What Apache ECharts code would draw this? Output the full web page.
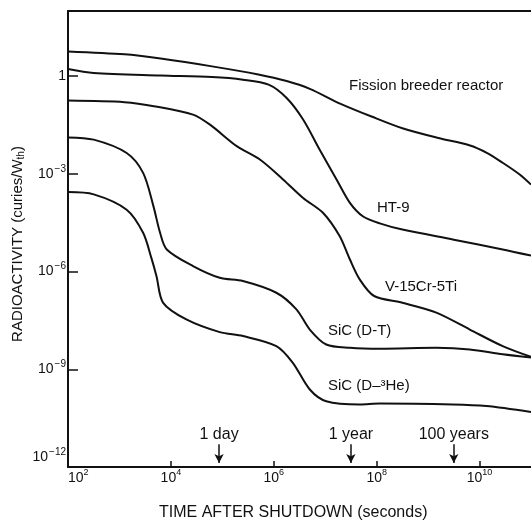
<!DOCTYPE html>
<html>
<head>
<meta charset="utf-8">
<script src="https://cdn.jsdelivr.net/npm/echarts@6/dist/echarts.min.js"></script>
<style>
  html, body { margin: 0; padding: 0; background: #fff; }
  #chart { width: 531px; height: 522px; }
</style>
</head>
<body>
<div id="chart"></div>
<script>
// 数据：横轴为 log10(秒)，纵轴为 log10(curies/W)
const fission = [[2.0, 0.76], [3.1, 0.67], [3.8, 0.54], [4.8, 0.30], [5.7, 0.05], [6.25, -0.15], [6.7, -0.39], [7.3, -0.85], [7.9, -1.24], [8.5, -1.6], [9.2, -1.9], [9.8, -2.12], [10.15, -2.36], [10.45, -2.66], [10.78, -3.02], [11.0, -3.33]];
const ht9 = [[2.0, 0.22], [2.5, 0.10], [3.8, 0.02], [4.8, -0.03], [5.4, -0.11], [5.9, -0.26], [6.25, -0.67], [6.57, -1.33], [6.89, -2.25], [7.22, -3.17], [7.48, -3.89], [7.73, -4.30], [8.06, -4.52], [8.5, -4.71], [9.5, -5.02], [10.45, -5.32], [11.0, -5.51]];
const v15 = [[2.0, -0.75], [3.1, -0.80], [3.7, -0.93], [4.43, -1.18], [4.76, -1.49], [5.28, -2.15], [5.73, -2.56], [6.18, -3.17], [6.57, -3.74], [6.96, -4.20], [7.28, -4.91], [7.48, -5.63], [7.67, -6.24], [7.95, -6.75], [8.5, -6.96], [9.16, -7.26], [9.81, -7.78], [10.45, -8.29], [11.0, -8.62]];
const sicDT = [[2.0, -1.88], [2.5, -1.95], [3.14, -2.36], [3.46, -2.97], [3.66, -3.99], [3.79, -4.81], [3.92, -5.32], [4.43, -5.83], [4.95, -6.19], [5.4, -6.29], [6.05, -6.65], [6.44, -7.16], [6.7, -7.78], [7.02, -8.24], [7.48, -8.34], [8.06, -8.37], [9.16, -8.34], [9.81, -8.39], [10.45, -8.54], [11.0, -8.64]];
const sicDHe = [[2.0, -3.56], [2.5, -3.63], [3.14, -4.10], [3.46, -4.81], [3.62, -5.58], [3.72, -6.14], [3.85, -6.96], [4.3, -7.47], [4.95, -7.86], [5.4, -7.98], [6.05, -8.29], [6.37, -8.80], [6.7, -9.62], [7.02, -9.98], [7.67, -10.08], [8.06, -10.05], [9.48, -10.08], [10.13, -10.13], [11.0, -10.31]];

const xTicks = [4, 6, 8, 10];
const xLabels = [2, 4, 6, 8, 10];
const yTicks = [-9, -6, -3, 0];
const yLabels = [-12, -9, -6, -3, 0];

const markNames = ['1 day', '1 year', '100 years'];
const markSeconds = [86400, 3.156e7, 3.156e9];

const font = '"Liberation Sans", Arial, sans-serif';
const ink = '#111';

const chart = echarts.init(document.getElementById('chart'));

const curve = (name, data) => ({
  name,
  type: 'line',
  data,
  smooth: 0.3,
  symbol: 'none',
  lineStyle: { color: ink, width: 2 },
  z: 3
});

const arrows = markNames.map((n, i) => {
  const x = Math.log10(markSeconds[i]);
  return [{ coord: [x, -11.3], name: n }, { coord: [x, -11.88] }];
});

const fissionSeries = curve('Fission breeder reactor', fission);
fissionSeries.markLine = {
  silent: true,
  symbol: ['none', 'arrow'],
  symbolSize: [7, 9],
  lineStyle: { color: ink, width: 1.5, type: 'solid' },
  label: {
    show: true, position: 'start', distance: 2, formatter: '{b}',
    color: ink, fontSize: 16, fontFamily: font
  },
  data: arrows
};

const xRich = { sup: { fontSize: 9, fontFamily: font, color: ink, verticalAlign: 'top', lineHeight: 20 } };
const yRich = { sup: { fontSize: 10, fontFamily: font, color: ink, verticalAlign: 'top', lineHeight: 20, padding: [0, 0, 0, 1] } };

chart.setOption({
  animation: false,
  backgroundColor: '#fff',
  grid: { left: 68, right: 0, top: 11, bottom: 55 },
  xAxis: [{
    type: 'value', min: 2, max: 11, interval: 2,
    axisLine: { onZero: false, lineStyle: { color: ink, width: 2 } },
    axisTick: { inside: true, length: 6, customValues: xTicks, lineStyle: { color: ink, width: 1.5 } },
    axisLabel: {
      customValues: xLabels, alignMinLabel: 'left', margin: 1,
      color: ink, fontSize: 14, fontFamily: font, lineHeight: 20,
      formatter: v => '10{sup|' + v + '}', rich: xRich
    },
    splitLine: { show: false }
  }, {
    type: 'value', min: 2, max: 11, position: 'top',
    axisLine: { show: true, onZero: false, lineStyle: { color: ink, width: 2 } },
    axisTick: { show: false }, axisLabel: { show: false }, splitLine: { show: false }
  }],
  yAxis: {
    type: 'value', min: -12, max: 2, interval: 3,
    axisLine: { onZero: false, lineStyle: { color: ink, width: 2 } },
    axisTick: { inside: true, length: 10, customValues: yTicks, lineStyle: { color: ink, width: 1.5 } },
    axisLabel: {
      customValues: yLabels, margin: 2, verticalAlignMinLabel: 'bottom',
      color: ink, fontSize: 14, fontFamily: font, lineHeight: 20,
      formatter: v => v === 0 ? '1' : '10{sup|\u2212' + (-v) + '}', rich: yRich
    },
    splitLine: { show: false }
  },
  series: [
    fissionSeries,
    curve('HT-9', ht9),
    curve('V-15Cr-5Ti', v15),
    curve('SiC (D-T)', sicDT),
    curve('SiC (D-3He)', sicDHe)
  ],
  graphic: [
    { type: 'text', left: 349, top: 78, style: { text: 'Fission breeder reactor', font: '15px ' + font, fill: ink } },
    { type: 'text', left: 377, top: 200, style: { text: 'HT-9', font: '15px ' + font, fill: ink } },
    { type: 'text', left: 385, top: 279, style: { text: 'V-15Cr-5Ti', font: '15px ' + font, fill: ink } },
    { type: 'text', left: 328, top: 323, style: { text: 'SiC (D-T)', font: '15px ' + font, fill: ink } },
    { type: 'text', left: 328, top: 378, style: { text: 'SiC (D\u2013\u00b3He)', font: '15px ' + font, fill: ink } },
    { type: 'text', left: 159, top: 505, style: { text: 'TIME AFTER SHUTDOWN (seconds)', font: '16px ' + font, fill: ink } },
    {
      type: 'text', x: 18, y: 244, rotation: Math.PI / 2,
      style: {
        text: 'RADIOACTIVITY (curies/W{sub|th})', font: '15px ' + font, fill: ink,
        align: 'center', verticalAlign: 'middle',
        rich: { sub: { fontSize: 10, fontFamily: font, fill: ink, verticalAlign: 'bottom', lineHeight: 17 } }
      }
    }
  ]
});

window.addEventListener('resize', () => chart.resize());
</script>
</body>
</html>
